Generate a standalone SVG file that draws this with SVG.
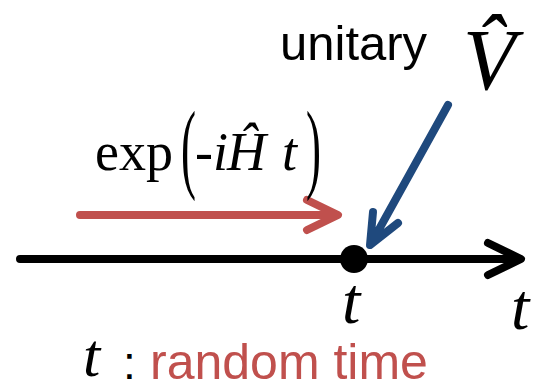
<svg xmlns="http://www.w3.org/2000/svg" width="535" height="390" viewBox="0 0 535 390">
<style>
.conn{fill:none;stroke-width:8;stroke-linecap:round;stroke-linejoin:round}
.math{font-family:"Liberation Serif","Times New Roman",serif;fill:#000}
.it{font-style:italic}
.sans{font-family:"Liberation Sans",Arial,sans-serif}
</style>
<rect width="535" height="390" fill="#fff"/>
<g id="connectors">
  <path class="conn" stroke="#000" d="M20,259 L518,259 M488,243 L521,259 L488,275"/>
  <path class="conn" stroke="#C0504D" d="M80,215 L336,215 M307,200 L338,215 L307,230"/>
  <path class="conn" stroke="#1F497D" d="M448,105 L372,242 M373,212 L370,245 L398,223"/>
</g>
<g id="point">
  <circle cx="354" cy="259" r="14" fill="#000"/>
  <text class="math it" x="342" y="323" font-size="66">t</text>
</g>
<g id="axis-label">
  <text class="math it" x="511" y="329" font-size="66">t</text>
</g>
<g id="evolution">
  <text class="math" x="95" y="170" font-size="54">exp</text>
  <text class="math" transform="translate(181,180) scale(0.45,1)" font-size="100">(</text>
  <text class="math" x="195" y="170" font-size="54">-</text>
  <text class="math it" x="213" y="170" font-size="54">i</text>
  <text class="math it" x="227" y="170" font-size="54">Ĥ</text>
  <text class="math it" x="282" y="170" font-size="54">t</text>
  <text class="math" transform="translate(306,180) scale(0.45,1)" font-size="100">)</text>
</g>
<g id="unitary">
  <text class="sans" x="280" y="60" font-size="49" fill="#000">unitary</text>
  <text class="math it" x="463" y="89" font-size="86">V̂</text>
</g>
<g id="legend">
  <text class="math it" x="83" y="376" font-size="62">t</text>
  <text class="sans" x="123" y="379" font-size="46" fill="#000">:</text>
  <text class="sans" x="150" y="379" font-size="50" fill="#C0504D">random time</text>
</g>
</svg>
